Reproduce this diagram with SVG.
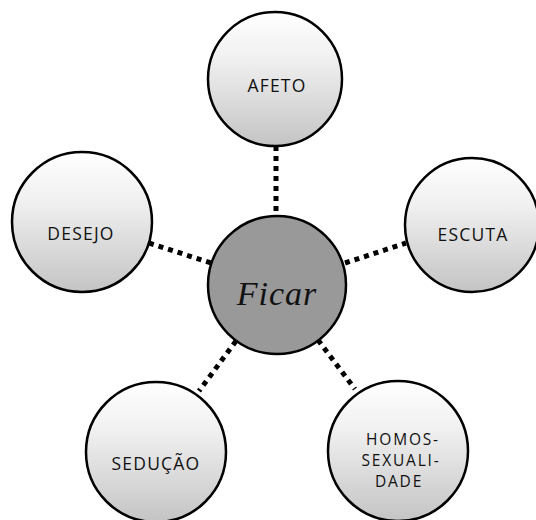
<svg xmlns="http://www.w3.org/2000/svg" width="536" height="520" viewBox="0 0 536 520">
<defs>
<linearGradient id="g" x1="0" y1="0" x2="0" y2="1">
<stop offset="0" stop-color="#ffffff"/>
<stop offset="0.35" stop-color="#f0f0f0"/>
<stop offset="1" stop-color="#c4c4c4"/>
</linearGradient>
<style>
.n{fill:url(#g);stroke:#000;stroke-width:2.5}
.c{fill:#999999;stroke:#000;stroke-width:2.5}
.t{font-family:"Open Sans","Liberation Sans",sans-serif;font-size:17.5px;font-weight:500;fill:#111;text-anchor:middle;letter-spacing:1.2px}
.h{font-size:15.5px;letter-spacing:1.8px}
.f{font-family:"Liberation Serif",serif;font-style:italic;font-size:34px;fill:#111;text-anchor:middle;letter-spacing:1px}
.e{stroke:#000;stroke-width:5;stroke-dasharray:5 5;fill:none}
</style>
</defs>
<rect width="536" height="520" fill="#fff"/>
<g id="connectors">
<line class="e" x1="276" y1="146" x2="276" y2="216"/>
<line class="e" x1="149" y1="243" x2="211" y2="263"/>
<line class="e" x1="345" y1="263" x2="406" y2="243"/>
<line class="e" x1="236" y1="341" x2="199" y2="391"/>
<line class="e" x1="318" y1="340" x2="355" y2="389"/>
</g>
<g id="ficar">
<circle class="c" cx="277" cy="285" r="69"/>
<text class="f" x="277" y="305">Ficar</text>
</g>
<g id="afeto">
<circle class="n" cx="275" cy="79" r="67"/>
<text class="t" x="277" y="92">AFETO</text>
</g>
<g id="escuta">
<circle class="n" cx="472" cy="225" r="67"/>
<text class="t" x="473" y="241">ESCUTA</text>
</g>
<g id="desejo">
<circle class="n" cx="82" cy="222" r="70"/>
<text class="t" x="81" y="240">DESEJO</text>
</g>
<g id="seducao">
<circle class="n" cx="156" cy="452" r="70"/>
<text class="t" x="156" y="470">SEDUÇÃO</text>
</g>
<g id="homossexualidade">
<circle class="n" cx="398" cy="451" r="70"/>
<text class="t h" x="403" y="445">HOMOS-</text>
<text class="t h" x="401" y="466">SEXUALI-</text>
<text class="t h" x="399" y="487">DADE</text>
</g>
</svg>
